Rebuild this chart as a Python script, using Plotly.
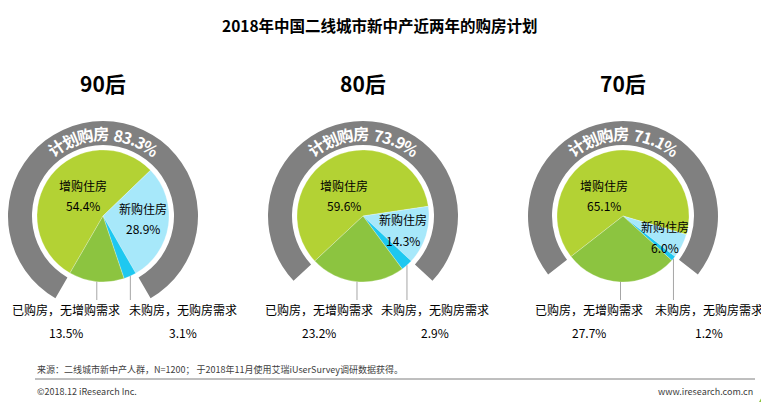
import math
import plotly.graph_objects as go

# ---------------- data ----------------
title_text = "2018年中国二线城市新中产近两年的购房计划"
cohorts = ["90后", "80后", "70后"]
plan_total = [83.3, 73.9, 71.1]          # 计划购房
zenggou = [54.4, 59.6, 65.1]             # 增购住房
xingou = [28.9, 14.3, 6.0]               # 新购住房
weigou = [3.1, 2.9, 1.2]                 # 未购房，无购房需求
yigou = [13.5, 23.2, 27.7]               # 已购房，无增购需求
slice_names = ["增购住房", "新购住房", "未购房，无购房需求", "已购房，无增购需求"]
ring_label = "计划购房"
source_text = "来源：二线城市新中产人群，N=1200； 于2018年11月使用艾瑞iUserSurvey调研数据获得。"
copyright_text = "©2018.12 iResearch Inc."
site_text = "www.iresearch.com.cn"

# ---------------- layout config ----------------
W, H = 769, 402
OFF = 8                      # page body margin of the html page
FW, FH = W - OFF, H - OFF    # figure size so that it ends at the window edge
centers_x = [103, 363, 623]
center_y = 216
R_PIE = 66
R_RING_OUT = 95
R_RING_IN = 71
FONT = "Noto Sans CJK SC, Microsoft YaHei, sans-serif"
COL_ZENG = "#B3D234"
COL_XIN = "#A7E8FA"
COL_WEI = "#1EC8F0"
COL_YI = "#8CC440"
COL_RING = "#808080"
# label offsets relative to the pie centre (px)
zeng_off = [(-20, -31), (-19, -31), (-19, -31)]
xin_off = [(40, -8), (40, 4), (42, 11)]
yi_lab_dx = [-37, -44, -34]
wei_lab_dx = [80, 72, 86]
bottom_lab_y = 309
bottom_val_y = 332
leader_bottom = 300
LAB_FS = 12


def px(x):
    return min(max((x - OFF) / FW, 0.0), 1.0)


def py(y):
    return min(max(1 - (y - OFF) / FH, 0.0), 1.0)


fig = go.Figure()
annotations = []
shapes = []

for i, name in enumerate(cohorts):
    cx = centers_x[i]
    rot = -plan_total[i] * 1.8
    # ring
    fig.add_trace(go.Pie(
        values=[plan_total[i], 100 - plan_total[i]],
        marker=dict(colors=[COL_RING, "rgba(0,0,0,0)"], line=dict(width=0)),
        hole=R_RING_IN / R_RING_OUT,
        sort=False, direction="clockwise", rotation=rot,
        textinfo="none", hoverinfo="skip", showlegend=False,
        domain=dict(x=[px(cx - R_RING_OUT), px(cx + R_RING_OUT)],
                    y=[py(center_y + R_RING_OUT), py(center_y - R_RING_OUT)]),
    ))
    # pie
    fig.add_trace(go.Pie(
        labels=slice_names,
        values=[zenggou[i], xingou[i], weigou[i], yigou[i]],
        marker=dict(colors=[COL_ZENG, COL_XIN, COL_WEI, COL_YI],
                    line=dict(width=0.5, color="rgba(255,255,255,0.5)")),
        sort=False, direction="clockwise", rotation=rot,
        textinfo="none", hoverinfo="label+value", showlegend=False,
        domain=dict(x=[px(cx - R_PIE), px(cx + R_PIE)],
                    y=[py(center_y + R_PIE), py(center_y - R_PIE)]),
    ))

    # cohort title
    annotations.append(dict(x=px(cx), y=py(83), xref="paper", yref="paper",
                            text=f"<b>{name}</b>", showarrow=False,
                            font=dict(family=FONT, size=21, color="#000000"),
                            xanchor="center", yanchor="middle"))

    # inner labels
    for (dx, dy), lab, val in [(zeng_off[i], slice_names[0], zenggou[i]),
                               (xin_off[i], slice_names[1], xingou[i])]:
        annotations.append(dict(x=px(cx + dx), y=py(center_y + dy), xref="paper", yref="paper",
                                text=lab, showarrow=False,
                                font=dict(family=FONT, size=LAB_FS, color="#000000"),
                                xanchor="center", yanchor="middle"))
        annotations.append(dict(x=px(cx + dx), y=py(center_y + dy + 20), xref="paper", yref="paper",
                                text=f"{val:.1f}%", showarrow=False,
                                font=dict(family=FONT, size=LAB_FS, color="#000000"),
                                xanchor="center", yanchor="middle"))

    # bottom labels with leader lines
    start = rot
    ang_wei_mid = start + (zenggou[i] + xingou[i] + weigou[i] / 2) * 3.6
    ang_yi_mid = start + (zenggou[i] + xingou[i] + weigou[i] + yigou[i] / 2) * 3.6
    for ang, ldx, lab, val in [(ang_yi_mid, yi_lab_dx[i], slice_names[3], yigou[i]),
                               (ang_wei_mid, wei_lab_dx[i], slice_names[2], weigou[i])]:
        a = math.radians(ang)
        ex = cx + R_PIE * math.sin(a)
        ey = center_y - R_PIE * math.cos(a)
        shapes.append(dict(type="line", xref="paper", yref="paper",
                           x0=px(ex), x1=px(ex), y0=py(ey), y1=py(leader_bottom),
                           line=dict(color="#A6A6A6", width=1)))
        annotations.append(dict(x=px(cx + ldx), y=py(bottom_lab_y), xref="paper", yref="paper",
                                text=lab, showarrow=False,
                                font=dict(family=FONT, size=LAB_FS, color="#000000"),
                                xanchor="center", yanchor="middle"))
        annotations.append(dict(x=px(cx + ldx), y=py(bottom_val_y), xref="paper", yref="paper",
                                text=f"{val:.1f}%", showarrow=False,
                                font=dict(family=FONT, size=LAB_FS, color="#000000"),
                                xanchor="center", yanchor="middle"))

    # curved ring text
    txt = f"{ring_label} {plan_total[i]:.1f}%"
    fs = 16
    r_txt = 83

    def cw(ch):
        if ch.isdigit():
            return 0.58 * fs
        if ch == ".":
            return 0.3 * fs
        if ch == "%":
            return 0.85 * fs
        if ch == " ":
            return 0.32 * fs
        return 1.0 * fs

    widths = [cw(c) for c in txt]
    total = sum(widths)
    pos = -total / 2
    for ch, w in zip(txt, widths):
        centre = pos + w / 2
        pos += w
        if ch == " ":
            continue
        th = centre / r_txt
        tx = cx + r_txt * math.sin(th)
        ty = center_y - r_txt * math.cos(th)
        annotations.append(dict(x=px(tx), y=py(ty), xref="paper", yref="paper",
                                text=f"<b>{ch}</b>", showarrow=False,
                                textangle=math.degrees(th),
                                font=dict(family=FONT, size=fs, color="#FFFFFF"),
                                xanchor="center", yanchor="middle"))

# title
annotations.append(dict(x=px(380), y=py(25), xref="paper", yref="paper",
                        text=f"<b>{title_text}</b>", showarrow=False,
                        font=dict(family=FONT, size=15.5, color="#000000"),
                        xanchor="center", yanchor="middle"))
# footer
annotations.append(dict(x=px(35), y=py(369), xref="paper", yref="paper",
                        text=source_text, showarrow=False,
                        font=dict(family=FONT, size=9, color="#404040"),
                        xanchor="left", yanchor="middle"))
annotations.append(dict(x=px(35), y=py(391), xref="paper", yref="paper",
                        text=copyright_text, showarrow=False,
                        font=dict(family=FONT, size=9, color="#404040"),
                        xanchor="left", yanchor="middle"))
annotations.append(dict(x=px(755), y=py(391), xref="paper", yref="paper",
                        text=site_text, showarrow=False,
                        font=dict(family=FONT, size=9, color="#404040"),
                        xanchor="right", yanchor="middle"))
shapes.append(dict(type="line", xref="paper", yref="paper",
                   x0=px(35), x1=px(755), y0=py(379), y1=py(379),
                   line=dict(color="#7F7F7F", width=1)))
shapes.append(dict(type="path", xref="paper", yref="paper",
                   path=f"M {px(759)} {py(402)} L {px(769)} {py(384)} L {px(769)} {py(402)} Z",
                   fillcolor="#8CC440", line=dict(width=0)))

fig.update_layout(
    width=FW, height=FH,
    margin=dict(l=0, r=0, t=0, b=0),
    paper_bgcolor="#FFFFFF", plot_bgcolor="#FFFFFF",
    annotations=annotations, shapes=shapes,
    showlegend=False,
)

fig.write_html("out.html")
